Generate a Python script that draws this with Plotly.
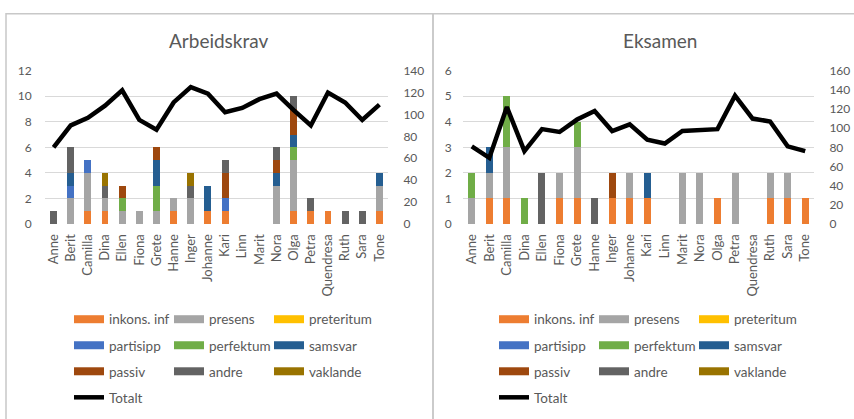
import plotly.graph_objects as go

names = ["Anne", "Berit", "Camilla", "Dina", "Ellen", "Fiona", "Grete", "Hanne", "Inger", "Johanne",
         "Kari", "Linn", "Marit", "Nora", "Olga", "Petra", "Quendresa", "Ruth", "Sara", "Tone"]

series_names = ["inkons. inf", "presens", "preteritum", "partisipp", "perfektum",
                "samsvar", "passiv", "andre", "vaklande"]

# Arbeidskrav
ark_inkons = [0, 0, 1, 1, 0, 0, 0, 1, 0, 1, 1, 0, 0, 0, 1, 1, 1, 0, 0, 1]
ark_presens = [0, 2, 3, 1, 1, 1, 1, 1, 2, 0, 0, 0, 0, 3, 4, 0, 0, 0, 0, 2]
ark_preteritum = [0] * 20
ark_partisipp = [0, 1, 1, 0, 0, 0, 0, 0, 0, 0, 1, 0, 0, 0, 0, 0, 0, 0, 0, 0]
ark_perfektum = [0, 0, 0, 0, 1, 0, 2, 0, 0, 0, 0, 0, 0, 0, 1, 0, 0, 0, 0, 0]
ark_samsvar = [0, 1, 0, 0, 0, 0, 2, 0, 0, 2, 0, 0, 0, 1, 1, 0, 0, 0, 0, 1]
ark_passiv = [0, 0, 0, 0, 1, 0, 1, 0, 0, 0, 2, 0, 0, 1, 2, 0, 0, 0, 0, 0]
ark_andre = [1, 2, 0, 1, 0, 0, 0, 0, 1, 0, 1, 0, 0, 1, 1, 1, 0, 1, 1, 0]
ark_vaklande = [0, 0, 0, 1, 0, 0, 0, 0, 1, 0, 0, 0, 0, 0, 0, 0, 0, 0, 0, 0]
ark_totalt = [70, 90, 97, 108, 122, 95, 86, 111, 125, 119, 102, 106, 114, 119, 104, 90, 120, 111, 95, 109]

# Eksamen
eks_inkons = [0, 1, 1, 0, 0, 1, 1, 0, 1, 1, 1, 0, 0, 0, 1, 0, 0, 1, 1, 1]
eks_presens = [1, 1, 2, 0, 0, 1, 2, 0, 0, 1, 0, 0, 2, 2, 0, 2, 0, 1, 1, 0]
eks_preteritum = [0] * 20
eks_partisipp = [0] * 20
eks_perfektum = [1, 0, 2, 1, 0, 0, 1, 0, 0, 0, 0, 0, 0, 0, 0, 0, 0, 0, 0, 0]
eks_samsvar = [0, 1, 0, 0, 0, 0, 0, 0, 0, 0, 1, 0, 0, 0, 0, 0, 0, 0, 0, 0]
eks_passiv = [0, 0, 0, 0, 0, 0, 0, 0, 1, 0, 0, 0, 0, 0, 0, 0, 0, 0, 0, 0]
eks_andre = [0, 0, 0, 0, 2, 0, 0, 1, 0, 0, 0, 0, 0, 0, 0, 0, 0, 0, 0, 0]
eks_vaklande = [0] * 20
eks_totalt = [81, 69, 122, 76, 99, 96, 109, 118, 97, 104, 88, 84, 97, 98, 99, 134, 110, 107, 81, 76]

colors = ["#ED7D31", "#A5A5A5", "#FFC000", "#4472C4", "#70AD47",
          "#255E91", "#9E480E", "#636363", "#997300"]

ark = [ark_inkons, ark_presens, ark_preteritum, ark_partisipp, ark_perfektum,
       ark_samsvar, ark_passiv, ark_andre, ark_vaklande]
eks = [eks_inkons, eks_presens, eks_preteritum, eks_partisipp, eks_perfektum,
       eks_samsvar, eks_passiv, eks_andre, eks_vaklande]

W, H = 854, 419
FONT = "Lato"
GREY = "#595959"

def px(x):
    return x / W

def py(y):
    return 1 - y / H

fig = go.Figure()

for vals, col, nm in zip(ark, colors, series_names):
    fig.add_trace(go.Bar(x=names, y=vals, name=nm, marker=dict(color=col, line=dict(width=0)),
                         xaxis="x", yaxis="y", showlegend=False))
fig.add_trace(go.Scatter(x=names, y=ark_totalt, name="Totalt", mode="lines",
                         line=dict(color="black", width=4.5), xaxis="x", yaxis="y2", showlegend=False))

for vals, col, nm in zip(eks, colors, series_names):
    fig.add_trace(go.Bar(x=names, y=vals, name=nm, marker=dict(color=col, line=dict(width=0)),
                         xaxis="x2", yaxis="y3", showlegend=False))
fig.add_trace(go.Scatter(x=names, y=eks_totalt, name="Totalt", mode="lines",
                         line=dict(color="black", width=4.5), xaxis="x2", yaxis="y4", showlegend=False))

# legend entries (swatches)
legend_ids_left = ["legend", "legend2", "legend3", "legend4"]
legend_ids_right = ["legend5", "legend6", "legend7", "legend8"]
for ids, xa, ya in [(legend_ids_left, "x", "y"), (legend_ids_right, "x2", "y3")]:
    for i, (nm, col) in enumerate(zip(series_names, colors)):
        fig.add_trace(go.Scatter(x=[None], y=[None], name=nm, mode="lines",
                                 line=dict(color=col, width=8), xaxis=xa, yaxis=ya,
                                 legend=ids[i // 3], showlegend=True,
                                 legendwidth=(80 if i % 3 == 2 else 55)))
    fig.add_trace(go.Scatter(x=[None], y=[None], name="Totalt", mode="lines",
                             line=dict(color="black", width=4.5), xaxis=xa, yaxis=ya,
                             legend=ids[3], showlegend=True, legendwidth=60))

axfont = dict(family=FONT, size=12, color=GREY)
catfont = dict(family=FONT, size=13, color=GREY)
ydom = [py(224), py(65)]

fig.update_layout(
    width=W, height=H,
    margin=dict(l=0, r=0, t=0, b=0),
    paper_bgcolor="white", plot_bgcolor="white",
    barmode="stack", bargap=0.6,
    font=dict(family=FONT, color=GREY),
    xaxis=dict(domain=[px(45), px(388)], anchor="y", tickangle=-90, tickfont=catfont,
               showgrid=False, showline=False, ticks="outside", ticklen=4, tickcolor="rgba(0,0,0,0)"),
    yaxis=dict(domain=ydom, anchor="x", range=[0, 12], dtick=2, showgrid=True, gridcolor="#D9D9D9",
               gridwidth=1, zeroline=False, tickfont=axfont, ticks="outside", ticklen=10, tickcolor="rgba(0,0,0,0)"),
    yaxis2=dict(overlaying="y", side="right", anchor="x", range=[0, 140], dtick=20, showgrid=False,
                zeroline=False, tickfont=axfont, ticks="outside", ticklen=12, tickcolor="rgba(0,0,0,0)"),
    xaxis2=dict(domain=[px(463), px(814)], anchor="y3", tickangle=-90, tickfont=catfont,
                showgrid=False, showline=False, ticks="outside", ticklen=4, tickcolor="rgba(0,0,0,0)"),
    yaxis3=dict(domain=ydom, anchor="x2", range=[0, 6], dtick=1, showgrid=True, gridcolor="#D9D9D9",
                gridwidth=1, zeroline=False, tickfont=axfont, ticks="outside", ticklen=8, tickcolor="rgba(0,0,0,0)"),
    yaxis4=dict(overlaying="y3", side="right", anchor="x2", range=[0, 160], dtick=20, showgrid=False,
                zeroline=False, tickfont=axfont, ticks="outside", ticklen=12, tickcolor="rgba(0,0,0,0)"),
    annotations=[
        dict(text="Arbeidskrav", x=px(219), y=py(34), xref="paper", yref="paper", showarrow=False,
             font=dict(family=FONT, size=19, color=GREY), xanchor="center", yanchor="middle"),
        dict(text="Eksamen", x=px(660), y=py(34), xref="paper", yref="paper", showarrow=False,
             font=dict(family=FONT, size=19, color=GREY), xanchor="center", yanchor="middle"),
    ],
    shapes=[
        dict(type="rect", xref="paper", yref="paper", x0=px(6), x1=px(433), y0=py(430), y1=py(6),
             line=dict(color="#C8C8C8", width=1.5), layer="below"),
        dict(type="rect", xref="paper", yref="paper", x0=px(433), x1=px(870), y0=py(430), y1=py(6),
             line=dict(color="#C8C8C8", width=1.5), layer="below"),
    ],
)

row_y = [323, 350, 377, 404]
leg_common = dict(orientation="h", entrywidthmode="pixels", bgcolor="rgba(0,0,0,0)",
                  font=dict(family=FONT, size=13.5, color=GREY), xanchor="left", yanchor="middle",
                  traceorder="normal", itemclick=False, itemdoubleclick=False, tracegroupgap=0)
for ids, x0 in [(legend_ids_left, 69), (legend_ids_right, 494)]:
    for lid, ry in zip(ids, row_y):
        fig.update_layout({lid: dict(x=px(x0), y=py(ry), **leg_common)})

fig.write_html("out.html")
